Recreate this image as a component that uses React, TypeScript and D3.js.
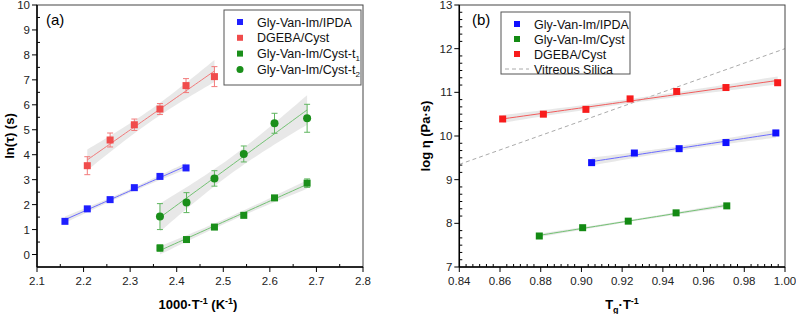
import { useEffect, useRef } from 'react';
import * as d3 from 'd3';

// Panel (a): Arrhenius plot
const ipdaX = [2.16, 2.208, 2.257, 2.309, 2.364, 2.42];
const ipdaY = [1.33, 1.83, 2.2, 2.68, 3.13, 3.47];
const dgebaX = [2.208, 2.257, 2.309, 2.364, 2.42, 2.481];
const dgebaY = [3.56, 4.59, 5.2, 5.83, 6.77, 7.13];
const dgebaErr = [0.36, 0.28, 0.23, 0.22, 0.28, 0.4];
const cystT1X = [2.364, 2.421, 2.481, 2.544, 2.61, 2.68];
const cystT1Y = [0.26, 0.6, 1.1, 1.57, 2.27, 2.86];
const cystT1Err = [0.13, 0.08, 0.06, 0.06, 0.08, 0.17];
const cystT2X = [2.364, 2.421, 2.481, 2.544, 2.61, 2.68];
const cystT2Y = [1.52, 2.08, 3.05, 4.03, 5.26, 5.46];
const cystT2Err = [0.52, 0.4, 0.31, 0.32, 0.4, 0.56];
const aXTicks = [2.1, 2.2, 2.3, 2.4, 2.5, 2.6, 2.7, 2.8];
const aYTicks = [0, 1, 2, 3, 4, 5, 6, 7, 8, 9, 10];

// Panel (b): viscosity vs Tg/T
const bIpdaX = [0.905, 0.926, 0.948, 0.971, 0.9955];
const bIpdaY = [9.39, 9.61, 9.71, 9.85, 10.07];
const bCystX = [0.8793, 0.9006, 0.923, 0.9465, 0.9714];
const bCystY = [7.71, 7.9, 8.05, 8.24, 8.4];
const bDgebaX = [0.8613, 0.8813, 0.9022, 0.9239, 0.9468, 0.971, 0.9964];
const bDgebaY = [10.39, 10.5, 10.61, 10.85, 11.02, 11.11, 11.22];
const silicaX = [0.84, 1.0];
const silicaY = [9.35, 12.0];
const bXTicks = [0.84, 0.86, 0.88, 0.9, 0.92, 0.94, 0.96, 0.98, 1.0];
const bYTicks = [7, 8, 9, 10, 11, 12, 13];

// two-sided 95% t quantiles by degrees of freedom
const tTable: Record<number, number> = { 1: 12.706, 2: 4.303, 3: 3.182, 4: 2.776, 5: 2.571, 6: 2.447 };

function fit(xs: number[], ys: number[]) {
  const n = xs.length;
  const mx = d3.mean(xs)!;
  const my = d3.mean(ys)!;
  const sxx = d3.sum(xs, x => (x - mx) ** 2);
  const sxy = d3.sum(xs.map((x, i) => (x - mx) * (ys[i] - my)));
  const b = sxy / sxx;
  const a = my - b * mx;
  const ssr = d3.sum(xs.map((x, i) => (ys[i] - (a + b * x)) ** 2));
  const s = Math.sqrt(ssr / (n - 2));
  const t = tTable[n - 2];
  const [x0, x1] = d3.extent(xs) as [number, number];
  return d3.range(0, 41).map(k => {
    const x = x0 + ((x1 - x0) * k) / 40;
    const y = a + b * x;
    const h = t * s * Math.sqrt(1 / n + (x - mx) ** 2 / sxx);
    return { x, y, lo: y - h, hi: y + h };
  });
}

const FONT = "'Liberation Sans', Arial, sans-serif";

export default function App() {
  const svgRef = useRef<SVGSVGElement>(null);

  useEffect(() => {
    if (!svgRef.current) return;
    const svg = d3.select(svgRef.current);
    svg.selectAll('*').remove();

    const H = { top: 5, bottom: 267 };

    function drawFrame(g: any, x: any, y: any, xTicks: number[], yTicks: number[], xMinor: number, yMinor: number, xFmt: (d: number) => string) {
      const [x0, x1] = x.range();
      const [y0, y1] = y.range();
      // minor ticks (inside)
      for (let i = 0; i < xTicks.length - 1; i++) {
        const step = (xTicks[i + 1] - xTicks[i]) / (xMinor + 1);
        for (let k = 1; k <= xMinor; k++) {
          const v = xTicks[i] + k * step;
          g.append('line').attr('x1', x(v)).attr('x2', x(v)).attr('y1', y0).attr('y2', y0 - 3)
            .attr('stroke', '#000').attr('stroke-width', 1);
        }
      }
      for (let i = 0; i < yTicks.length - 1; i++) {
        const step = (yTicks[i + 1] - yTicks[i]) / (yMinor + 1);
        for (let k = 1; k <= yMinor; k++) {
          const v = yTicks[i] + k * step;
          g.append('line').attr('x1', x0).attr('x2', x0 + 3).attr('y1', y(v)).attr('y2', y(v))
            .attr('stroke', '#000').attr('stroke-width', 1);
        }
      }
      // frame
      g.append('rect').attr('x', x0).attr('y', y1).attr('width', x1 - x0).attr('height', y0 - y1)
        .attr('fill', 'none').attr('stroke', '#444').attr('stroke-width', 1);
      g.append('line').attr('x1', x0).attr('x2', x1).attr('y1', y0).attr('y2', y0).attr('stroke', '#000').attr('stroke-width', 1.5);
      g.append('line').attr('x1', x0).attr('x2', x0).attr('y1', y0).attr('y2', y1).attr('stroke', '#000').attr('stroke-width', 1.5);
      // major ticks (outside) + labels
      xTicks.forEach(v => {
        g.append('line').attr('x1', x(v)).attr('x2', x(v)).attr('y1', y0).attr('y2', y0 + 5).attr('stroke', '#000');
        g.append('text').attr('x', x(v)).attr('y', y0 + 18).attr('text-anchor', 'middle')
          .style('font-family', FONT).style('font-size', '11.5px').attr('fill', '#222').text(xFmt(v));
      });
      yTicks.forEach(v => {
        g.append('line').attr('x1', x0 - 5).attr('x2', x0).attr('y1', y(v)).attr('y2', y(v)).attr('stroke', '#000');
        g.append('text').attr('x', x0 - 7).attr('y', y(v) + 4).attr('text-anchor', 'end')
          .style('font-family', FONT).style('font-size', '11.5px').attr('fill', '#222').text(String(v));
      });
    }

    function drawFit(g: any, x: any, y: any, xs: number[], ys: number[], color: string) {
      const pts = fit(xs, ys);
      g.append('path').datum(pts)
        .attr('d', d3.area<any>().x(d => x(d.x)).y0(d => y(d.lo)).y1(d => y(d.hi)))
        .attr('fill', '#d9d9d9').attr('opacity', 0.6);
      g.append('path').datum(pts)
        .attr('d', d3.line<any>().x(d => x(d.x)).y(d => y(d.y)))
        .attr('fill', 'none').attr('stroke', color).attr('stroke-width', 1);
    }

    function drawErr(g: any, x: any, y: any, xs: number[], ys: number[], errs: number[], color: string) {
      xs.forEach((xv, i) => {
        const cx = x(xv);
        g.append('line').attr('x1', cx).attr('x2', cx).attr('y1', y(ys[i] - errs[i])).attr('y2', y(ys[i] + errs[i]))
          .attr('stroke', color).attr('stroke-width', 1);
        [ys[i] - errs[i], ys[i] + errs[i]].forEach(e => {
          g.append('line').attr('x1', cx - 3).attr('x2', cx + 3).attr('y1', y(e)).attr('y2', y(e))
            .attr('stroke', color).attr('stroke-width', 1);
        });
      });
    }

    function drawMarks(g: any, x: any, y: any, xs: number[], ys: number[], color: string, shape: 'square' | 'circle') {
      xs.forEach((xv, i) => {
        if (shape === 'square') {
          g.append('rect').attr('x', x(xv) - 3.5).attr('y', y(ys[i]) - 3.5).attr('width', 7).attr('height', 7).attr('fill', color);
        } else {
          g.append('circle').attr('cx', x(xv)).attr('cy', y(ys[i])).attr('r', 4).attr('fill', color);
        }
      });
    }

    function legend(g: any, box: { x: number; y: number; w: number; h: number }, items: { label: string; sub?: string; color: string; shape: string }[], dy: number) {
      g.append('rect').attr('x', box.x).attr('y', box.y).attr('width', box.w).attr('height', box.h)
        .attr('fill', '#fff').attr('stroke', '#555').attr('stroke-width', 1);
      items.forEach((it, i) => {
        const cy = box.y + 12 + i * dy;
        const mx = box.x + 16;
        if (it.shape === 'square') {
          g.append('rect').attr('x', mx - 3).attr('y', cy - 3).attr('width', 6).attr('height', 6).attr('fill', it.color);
        } else if (it.shape === 'circle') {
          g.append('circle').attr('cx', mx).attr('cy', cy).attr('r', 3.5).attr('fill', it.color);
        } else {
          g.append('line').attr('x1', box.x + 4).attr('x2', box.x + 28).attr('y1', cy).attr('y2', cy)
            .attr('stroke', it.color).attr('stroke-width', 1).attr('stroke-dasharray', '4,3');
        }
        const t = g.append('text').attr('x', box.x + 33).attr('y', cy + 4.5)
          .style('font-family', FONT).style('font-size', '12.5px').attr('fill', '#111').text(it.label);
        if (it.sub) {
          t.append('tspan').attr('dy', 3).style('font-size', '8px').text(it.sub);
        }
      });
    }

    // ---------- Panel (a)
    const xa = d3.scaleLinear().domain([2.1, 2.8]).range([37, 363]);
    const ya = d3.scaleLinear().domain([-0.5, 10]).range([H.bottom, H.top]);
    const ga = svg.append('g');
    const blueA = '#1f1fff';
    const redA = '#f04c4c';
    const greenA = '#1a8f1a';
    drawFit(ga, xa, ya, dgebaX, dgebaY, '#f27a7a');
    drawFit(ga, xa, ya, ipdaX, ipdaY, '#6b6bff');
    drawFit(ga, xa, ya, cystT1X, cystT1Y, '#74c274');
    drawFit(ga, xa, ya, cystT2X, cystT2Y, '#74c274');
    drawErr(ga, xa, ya, dgebaX, dgebaY, dgebaErr, '#f27a7a');
    drawErr(ga, xa, ya, cystT1X, cystT1Y, cystT1Err, '#5fb55f');
    drawErr(ga, xa, ya, cystT2X, cystT2Y, cystT2Err, '#5fb55f');
    drawMarks(ga, xa, ya, ipdaX, ipdaY, blueA, 'square');
    drawMarks(ga, xa, ya, dgebaX, dgebaY, redA, 'square');
    drawMarks(ga, xa, ya, cystT1X, cystT1Y, greenA, 'square');
    drawMarks(ga, xa, ya, cystT2X, cystT2Y, greenA, 'circle');
    drawFrame(ga, xa, ya, aXTicks, aYTicks, 1, 1, d => d.toFixed(1));
    legend(ga, { x: 224, y: 10, w: 137, h: 75 }, [
      { label: 'Gly-Van-Im/IPDA', color: blueA, shape: 'square' },
      { label: 'DGEBA/Cyst', color: redA, shape: 'square' },
      { label: 'Gly-Van-Im/Cyst-t', sub: '1', color: greenA, shape: 'square' },
      { label: 'Gly-Van-Im/Cyst-t', sub: '2', color: greenA, shape: 'circle' },
    ], 15.8);
    ga.append('text').attr('x', 46).attr('y', 25).style('font-family', FONT).style('font-size', '15px').text('(a)');
    const ta = ga.append('text').attr('x', 198).attr('y', 309).attr('text-anchor', 'middle')
      .style('font-family', FONT).style('font-size', '13px').style('font-weight', 'bold');
    ta.append('tspan').text('1000·T');
    ta.append('tspan').attr('dy', -5).style('font-size', '9px').text('-1');
    ta.append('tspan').attr('dy', 5).text(' (K');
    ta.append('tspan').attr('dy', -5).style('font-size', '9px').text('-1');
    ta.append('tspan').attr('dy', 5).text(')');
    ga.append('text').attr('transform', `translate(14,${(H.top + H.bottom) / 2}) rotate(-90)`).attr('text-anchor', 'middle')
      .style('font-family', FONT).style('font-size', '13px').style('font-weight', 'bold').text('ln(τ) (s)');

    // ---------- Panel (b)
    const xb = d3.scaleLinear().domain([0.84, 1.0]).range([459.3, 785]);
    const yb = d3.scaleLinear().domain([7, 13]).range([H.bottom, H.top]);
    const gb = svg.append('g');
    const clipId = 'clip-b';
    svg.append('defs').append('clipPath').attr('id', clipId).append('rect')
      .attr('x', 459.3).attr('y', 5).attr('width', 785 - 459.3).attr('height', 262);
    gb.append('path').datum(silicaX.map((v, i) => [v, silicaY[i]]))
      .attr('d', d3.line<any>().x(d => xb(d[0])).y(d => yb(d[1])))
      .attr('clip-path', `url(#${clipId})`)
      .attr('fill', 'none').attr('stroke', '#aaa').attr('stroke-width', 1).attr('stroke-dasharray', '4,3');
    drawFit(gb, xb, yb, bDgebaX, bDgebaY, '#f25c5c');
    drawFit(gb, xb, yb, bIpdaX, bIpdaY, '#6b6bff');
    drawFit(gb, xb, yb, bCystX, bCystY, '#74c274');
    drawMarks(gb, xb, yb, bIpdaX, bIpdaY, '#1010ff', 'square');
    drawMarks(gb, xb, yb, bCystX, bCystY, '#138a13', 'square');
    drawMarks(gb, xb, yb, bDgebaX, bDgebaY, '#f81c1c', 'square');
    drawFrame(gb, xb, yb, bXTicks, bYTicks, 5, 5, d => d.toFixed(2));
    legend(gb, { x: 501, y: 12, w: 129, h: 62 }, [
      { label: 'Gly-Van-Im/IPDA', color: '#1010ff', shape: 'square' },
      { label: 'Gly-Van-Im/Cyst', color: '#138a13', shape: 'square' },
      { label: 'DGEBA/Cyst', color: '#f81c1c', shape: 'square' },
      { label: 'Vitreous Silica', color: '#aaa', shape: 'dash' },
    ], 15);
    gb.append('text').attr('x', 472).attr('y', 25).style('font-family', FONT).style('font-size', '15px').text('(b)');
    const tb = gb.append('text').attr('x', 622).attr('y', 309).attr('text-anchor', 'middle')
      .style('font-family', FONT).style('font-size', '13px').style('font-weight', 'bold');
    tb.append('tspan').text('T');
    tb.append('tspan').attr('dy', 4).style('font-size', '9px').text('g');
    tb.append('tspan').attr('dy', -4).text('·T');
    tb.append('tspan').attr('dy', -5).style('font-size', '9px').text('-1');
    gb.append('text').attr('transform', `translate(430,${(H.top + H.bottom) / 2}) rotate(-90)`).attr('text-anchor', 'middle')
      .style('font-family', FONT).style('font-size', '13px').style('font-weight', 'bold').text('log η (Pa·s)');
  }, []);

  return (
    <svg ref={svgRef} width={796} height={314}
      style={{ position: 'absolute', left: 0, top: 0, background: '#fff' }} />
  );
}
